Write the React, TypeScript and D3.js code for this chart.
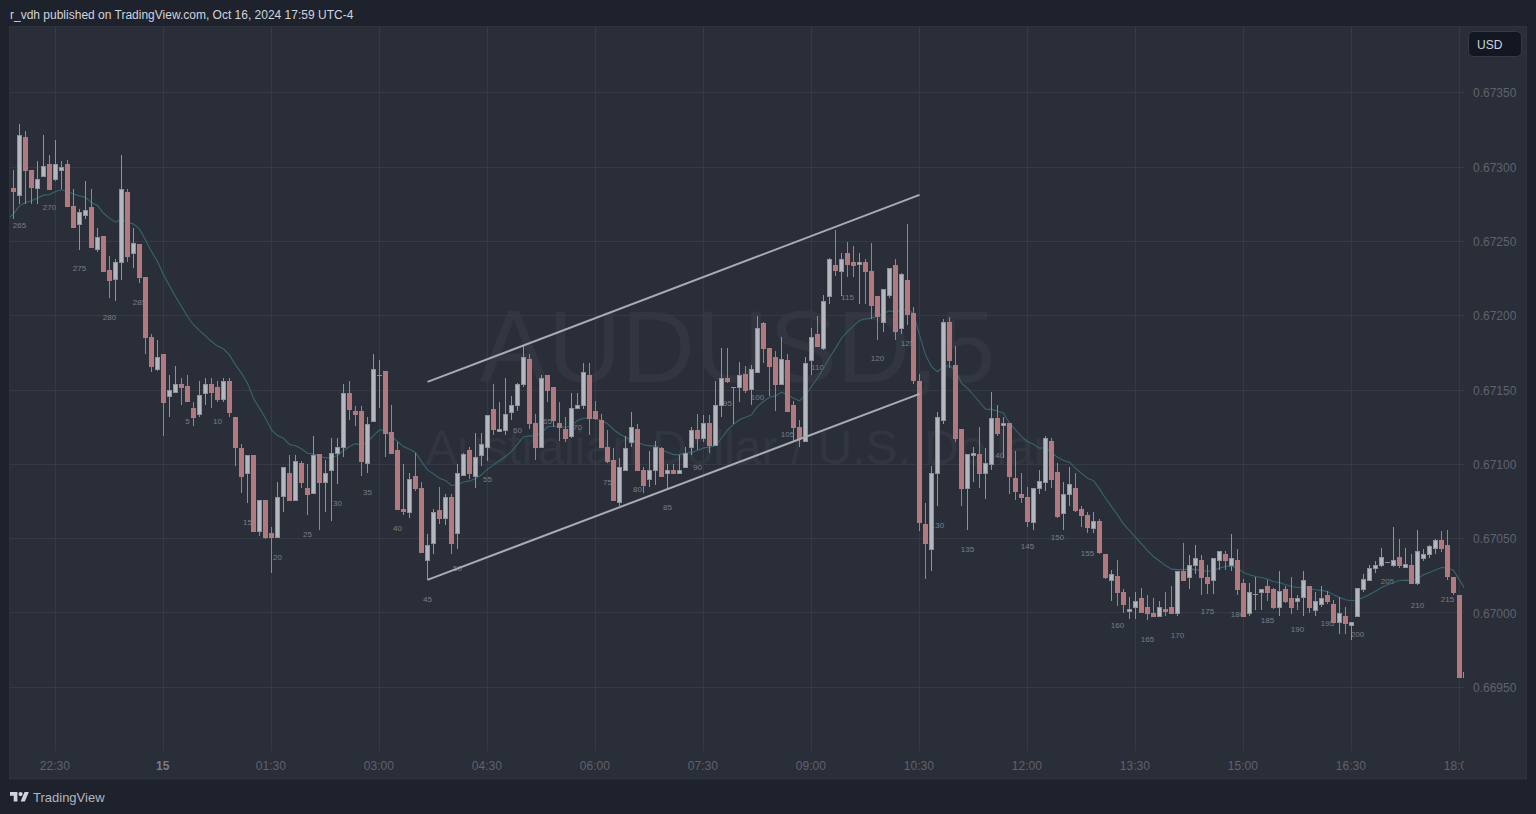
import React from "react";
import * as d3 from "d3";

// prices are in 1e-5 USD units
const falling = new Set<number>([
  0,2,3,6,9,10,13,15,16,19,21,22,23,25,28,29,30,33,34,36,37,38,40,42,43,46,48,49,51,56,57,58,
  62,63,64,65,67,68,71,73,76,80,86,87,89,90,91,92,96,97,98,99,100,104,105,108,110,114,116,119,
  122,125,126,127,129,130,131,134,137,139,140,142,143,144,147,149,150,151,152,156,157,158,161,
  164,166,167,168,169,173,174,177,178,179,181,182,184,185,188,189,190,192,193,195,198,199,202,
  204,205,209,210,212,213,216,219,220,222,231,233,238,239,240,241,
]);

const highs = [
  67298,67329,67324.5,67298,67304,67322,67308,67318,67304,67305,
  67285,67272,67291,67285,67259,67254,67240,67238,67308,67285,
  67259,67248,67226,67188,67184,67174,67160,67166,67158,67160,
  67142,67156,67158,67158,67156,67158,67158,67132,67114,67106,
  67106,67076,67076,67058,67088,67098,67106,67106,67102,67100,
  67119,67107,67103,67118,67118,67154,67156,67139,67139,67132,
  67174,67170,67163,67140,67115,67100,67094,67108,67088,67053,
  67070,67085,67080,67080,67100,67108,67112,67121,67121,67133,
  67154,67142,67158,67146,67155,67180,67174,67134,67160,67160,
  67152,67142,67132,67148,67148,67168,67168,67143,67134,67123,
  67111,67104,67119,67135,67127,67098,67109,67116,67112,67100,
  67100,67106,67112,67125,67134,67133,67133,67156,67178,67178,
  67152,67169,67166,67167,67200,67196,67178,67176,67186,67174,
  67143,67130,67172,67192,67200,67214,67239,67258,67242,67250,
  67247,67242,67238,67249,67213,67218,67232,67238,67229,67262,
  67206,67161,67074,67099,67135,67198,67199,67180,67124,67107,
  67112,67125,67111,67149,67140,67132,67128,67109,67094,67085,
  67084,67096,67119,67118,67101,67088,67098,67094,67072,67068,
  67068,67063,67040,67029,67036,67016,67011,67014,67017,67012,
  67010,67008,67014,67018,67028,67047,67039,67046,67039,67032,
  67037,67042,67042,67053,67043,67023,67020,67024,67016,67022,
  67017,67028,67018,67024,67012,67028,67018,67014,67018,67015,
  67009,67011,67004,66994,67017,67026,67032,67035,67044,67034.5,
  67058,67050,67044,67040,67056,67043,67046,67050,67055,67056,
  67024,67012,66960,
];
const bodyTops = [
  67286,67322,67320,67298,67292,67301,67302,67302,67300,67302,
  67274,67270,67271,67273,67253,67254,67231,67236,67285,67283,
  67249,67248,67226,67186,67172,67174,67150,67154,67154,67153,
  67138,67147,67154,67154,67152,67156,67156,67132,67111,67106,
  67106,67076,67076,67054,67078,67098,67094,67102,67101,67084,
  67106,67107,67094,67108,67112,67148,67148,67136,67136,67127,
  67164,67160,67163,67122,67110,67070,67090,67092,67084,67046,
  67068,67069,67078,67078,67094,67107,67110,67105,67114,67133,
  67137,67124,67134,67140,67154,67172,67171,67128,67158,67160,
  67152,67128,67124,67138,67140,67162,67160,67136,67130,67112,
  67103,67098,67111,67125,67124,67096,67096,67112,67111,67096,
  67096,67096,67108,67123,67123,67128,67128,67140,67158,67158,
  67152,67160,67161,67164,67192,67195,67178,67172,67171,67170,
  67140,67125,67168,67186,67188,67210,67238,67234,67238,67242,
  67236,67236,67236,67230,67213,67218,67232,67234,67228,67224,
  67202,67156,67060,67094,67132,67196,67196,67167,67124,67107,
  67108,67107,67101,67131,67131,67128,67128,67091,67080,67078,
  67084,67089,67118,67116,67095,67080,67087,67084,67070,67066,
  67062,67062,67040,67026,67025,67014,67003,67008,67010,67004,
  67000,67004,67003,67004,67028,67028,67032,67037,67036,67024,
  67037,67042,67040,67037,67036,67020,67014,67013,67016,67018,
  67016,67015,67016,67010,67010,67022,67018,67008,67010,67012,
  67006,67000,66998,66994,67017,67023,67030,67032,67038,67034,
  67036,67038,67033,67032,67042,67040,67045,67049,67049,67046,
  67024,67012,66960,
];
const bodyBottoms = [
  67284,67281,67298,67287,67286,67294,67285,67292,67298,67274,
  67260,67262,67268,67246,67245,67230,67224,67225,67236,67240,
  67242,67226,67186,67166,67164,67142,67146,67149,67152,67143,
  67132,67134,67148,67149,67144,67144,67135,67112,67092,67094,
  67055,67055,67051,67051,67051,67079,67076,67076,67088,67080,
  67081,67088,67088,67096,67108,67112,67137,67134,67102,67101,
  67129,67160,67121,67108,67070,67069,67068,67084,67041,67036,
  67047,67064,67064,67047,67054,67093,67094,67092,67106,67112,
  67124,67123,67123,67135,67140,67154,67128,67112,67112,67150,
  67130,67125,67118,67119,67138,67140,67131,67131,67112,67102,
  67076,67075,67096,67115,67096,67086,67090,67096,67092,67094,
  67094,67094,67098,67112,67118,67118,67113,67113,67140,67156,
  67152,67152,67150,67151,67162,67178,67166,67154,67154,67136,
  67125,67118,67116,67170,67180,67178,67213,67231,67230,67235,
  67234,67235,67230,67207,67200,67196,67214,67190,67192,67201,
  67157,67061,67047,67043,67094,67130,67170,67118,67084,67084,
  67106,67094,67094,67100,67121,67127,67092,67082,67078,67062,
  67061,67084,67088,67090,67065,67067,67080,67069,67066,67058,
  67057,67041,67024,67022,67014,67006,67002,67004,67001,67000,
  66998,66998,67002,67000,67000,67022,67024,67032,67024,67020,
  67022,67036,67036,67032,67016,66998,67000,67013,67014,67014,
  67004,67004,67008,67004,67008,67011,67004,67002,67006,67008,
  66994,66994,66993,66992,66998,67016,67022,67030,67032,67034,
  67032,67032,67031,67020,67020,67037,67040,67044,67044,67025,
  67014,66957,66957,
];
const lows = [
  67265,67275,67275,67275,67275,67294,67285,67291,67285,67273,
  67260,67244,67265,67246,67243,67230,67212,67210,67224,67236,
  67232,67222,67174,67162,67163,67119,67132,67149,67140,67142,
  67126,67132,67140,67138,67142,67142,67132,67099,67081,67074,
  67055,67052,67050,67027,67051,67068,67076,67076,67084,67066,
  67080,67056,67068,67062,67087,67105,67130,67126,67092,67094,
  67129,67138,67105,67108,67069,67066,67064,67082,67041,67022,
  67040,67060,67059,67040,67043,67092,67090,67084,67099,67102,
  67120,67122,67120,67130,67136,67152,67124,67103,67112,67142,
  67125,67116,67115,67118,67137,67137,67120,67130,67112,67101,
  67076,67072,67096,67112,67096,67081,67085,67086,67092,67084,
  67094,67094,67098,67106,67110,67115,67108,67113,67132,67155,
  67127,67142,67148,67140,67162,67168,67146,67136,67154,67135,
  67116,67112,67116,67160,67179,67177,67208,67227,67213,67226,
  67226,67208,67208,67198,67184,67189,67212,67184,67188,67194,
  67154,67055,67023,67028,67072,67127,67165,67115,67072,67056,
  67088,67084,67077,67096,67119,67104,67080,67076,67074,67058,
  67056,67080,67082,67084,67064,67056,67072,67068,67058,67054,
  67054,67040,67023,67008,67005,67000,66996,66996,67001,66995,
  66997,66997,66998,66999,66998,67022,67016,67026,67012,67013,
  67013,67029,67029,67028,67012,66998,66998,67002,67002,67008,
  67003,66998,67007,66999,67002,66998,67000,66998,67004,67006,
  66993,66986,66986,66982,66998,67014,67022,67027,67031,67033.5,
  67031,67030,67030,67020,67019,67035,67037,67040,67041,67022,
  67012,66957,66957,
];

const emaBeforeFirst = 67265;
const emaValues = [
  67268.6,67274,67276.2,67277.4,67279.2,67281.2,67281.6,67283.6,67284.8,67283.6,
  67281.9,67280.7,67279.8,67276.2,67274.2,67269,67265.7,67263,67265,67263,
  67261.7,67258.5,67251,67243.3,67236.5,67227.6,67220.2,67213,67206.3,67199.5,
  67194,67190,67186.5,67182.7,67179.6,67177.8,67173.5,67167,67161.4,67154.6,
  67144.5,67137.8,67131,67123.2,67119.4,67117.6,67113.4,67112.5,67110.5,67107.5,
  67106.9,67105.5,67104.4,67104.6,67106,67109.3,67112,67114,67113,67115,
  67119.4,67123.2,67122.8,67118.8,67115.4,67112,67110.2,67108,67101.9,67096.3,
  67093.6,67090.7,67089.1,67085.8,67086.5,67088.2,67088.9,67090.3,67093,67096.8,
  67099.7,67102.6,67105.3,67108.7,67113.6,67118.5,67119.2,67119.2,67121.4,67125.3,
  67125.7,67125.7,67124.8,67126.2,67129.5,67131.1,67131.3,67130.9,67129.3,67127.5,
  67123.5,67120.5,67118.3,67116.5,67115,67113.2,67112.5,67112.5,67109.8,67108.2,
  67106.6,67106.6,67107.5,67108,67109.3,67111.1,67111.6,67112.5,67117.6,67123.2,
  67127,67130,67131.8,67133.3,67139,67142.3,67145.2,67146.1,67148.6,67146.8,
  67144.5,67142.7,67146.7,67152.4,67158,67164.7,67171.9,67178.1,67184.9,67189.4,
  67193.2,67196.8,67197.9,67198.3,67199.9,67201.7,67203.3,67202.4,67204,67204.4,
  67201.3,67187.1,67173.7,67165.8,67162.4,67165.8,67166.5,67163.1,67154.6,67151.2,
  67146.7,67142,67137.2,67137,67136,67134.6,67127.7,67123.2,67118.7,67115.4,
  67113.6,67110.9,67111.3,67108,67104.8,67102.6,67101.5,67097.4,67094,67090.7,
  67089.1,67083.5,67077.2,67071.6,67066,67060,67055.5,67051,67046.5,67042,
  67038,67035,67031.9,67029.5,67029.2,67029.2,67029.5,67029.2,67028.6,67028,
  67028.6,67030.2,67031.3,67031.7,67030.2,67027.3,67025.7,67024.6,67023.9,67022.8,
  67021,67020.5,67019,67017.8,67017.2,67017.2,67016.5,67015.6,67015.2,67014.5,
  67012.2,67010.4,67008.9,67008.2,67008.9,67010.4,67012.5,67014.7,67017.2,67019,
  67020.5,67021.9,67022.1,67021.9,67023,67025.7,67027.3,67029,67030.6,67030.4,
  67028.6,67022.3,67015.6,
];

const barNumbers = [265,270,275,280,285,5,10,15,20,25,30,35,40,45,50,55,60,65,70,75,80,85,90,95,100,105,110,115,120,125,130,135,140,145,150,155,160,165,170,175,180,185,190,195,200,205,210,215];
const barNumberIndex = barNumbers.map((n) => (n >= 265 ? n - 264 : n + 24));
const barNumberLevels = [
  67261,67273,67232,67199,67209.4,67129,67129,67061,67038,67053,67074,67081.5,67057,67009.5,67030,67090,
  67123,67129,67125,67088,67083.5,67071,67098,67141.4,67145.4,67120.5,67165.6,67212.7,67171.7,67181.8,
  67059,67043,67106,67045,67051,67040.5,66992,66982.6,66985,67001.4,66999.4,66995.4,66989,66993.4,66986,
  67021.6,67005.5,67009.5,
];

const channelUpper = [[69, 67155.5],[151, 67281.4]];
const channelLower = [[69, 67022.3],[151, 67147.5]];

const priceTicks = [67350,67300,67250,67200,67150,67100,67050,67000,66950];
const timeTickIndex = [7,25,43,61,79,97,115,133,151,169,187,205,223,241];
const timeTickLabels = ["22:30","15","01:30","03:00","04:30","06:00","07:30","09:00","10:30","12:00","13:30","15:00","16:30","18:00"];

const FONT = "'Liberation Sans', Arial, sans-serif";
const C = {
  page: "#1e222d",
  pane: "#2a2e39",
  frame: "#2f333e",
  grid: "#363a45",
  axis: "#5f626d",
  axisBold: "#787b86",
  mark: "#323641",
  upFill: "#b5b7bf",
  upStroke: "#8f919b",
  downFill: "#b17a7e",
  downStroke: "#ad7a7e",
  ema: "#36656f",
  channel: "#a9abb5",
  label: "#7a7d86",
  head: "#d1d4dc",
};

export default function App() {
  const x = d3.scaleLinear().domain([0, 1]).range([13.5, 19.5]);
  const y = d3.scaleLinear().domain([67350, 66950]).range([92.9, 687.3]);
  const crisp = (v: number) => Math.floor(v) + 0.5;
  const ema = [emaBeforeFirst, ...emaValues];
  const emaPath = d3
    .line<number>()
    .x((_, i) => x(i - 1))
    .y((d) => y(d))(ema) as string;
  const chanLine = d3
    .line<number[]>()
    .x((d) => x(d[0]))
    .y((d) => y(d[1]));

  return (
    <svg
      width={1536}
      height={814}
      style={{ position: "fixed", left: 0, top: 0, display: "block" }}
      fontFamily={FONT}
    >
      <defs>
        <clipPath id="plot">
          <rect x={10} y={27} width={1454} height={724} />
        </clipPath>
        <clipPath id="timeAxis">
          <rect x={10} y={751} width={1454} height={28} />
        </clipPath>
      </defs>
      <rect width={1536} height={814} fill={C.page} />
      <rect x={9.5} y={26.5} width={1517} height={752.5} fill={C.pane} stroke={C.frame} />
      <text x={10} y={19} fontSize={12} fill={C.head}>
        r_vdh published on TradingView.com, Oct 16, 2024 17:59 UTC-4
      </text>

      <g textAnchor="middle" fill={C.mark}>
        <text x={737.5} y={382} fontSize={102}>AUDUSD,5</text>
        <text x={737.5} y={464} fontSize={48}>Australian Dollar / U.S. Dollar</text>
      </g>

      <g stroke={C.grid} strokeWidth={1}>
        {priceTicks.map((p) => (
          <line key={p} x1={10} x2={1464} y1={crisp(y(p))} y2={crisp(y(p))} />
        ))}
        {timeTickIndex.map((i) => (
          <line key={i} x1={x(i)} x2={x(i)} y1={27} y2={751} />
        ))}
      </g>

      <g clipPath="url(#plot)">
        <g textAnchor="middle" fontSize={8} fill={C.label}>
          {barNumbers.map((n, k) => (
            <text key={k} x={x(barNumberIndex[k])} y={y(barNumberLevels[k]) + 3}>
              {n}
            </text>
          ))}
        </g>
        <path d={emaPath} fill="none" stroke={C.ema} strokeWidth={1.1} />
        {highs.map((h, i) => {
          const down = falling.has(i);
          const cx = x(i);
          const top = Math.round(y(bodyTops[i]));
          const bot = Math.round(y(bodyBottoms[i]));
          const doji = bodyTops[i] === bodyBottoms[i];
          const wick = down ? C.downFill : C.upStroke;
          return (
            <g key={i}>
              <rect
                x={cx - 0.5}
                y={Math.round(y(h))}
                width={1}
                height={Math.max(1, Math.round(y(lows[i])) - Math.round(y(h)))}
                fill={wick}
              />
              {doji ? (
                <rect x={cx - 2.5} y={top} width={5} height={1} fill={down ? C.downFill : C.upStroke} />
              ) : (
                <rect
                  x={cx - 2}
                  y={top + 0.5}
                  width={4}
                  height={Math.max(2, bot - top)}
                  fill={down ? C.downFill : C.upFill}
                  stroke={down ? C.downStroke : C.upStroke}
                  strokeWidth={1}
                />
              )}
            </g>
          );
        })}
        <path d={chanLine(channelUpper) as string} fill="none" stroke={C.channel} strokeWidth={2} />
        <path d={chanLine(channelLower) as string} fill="none" stroke={C.channel} strokeWidth={2} />
      </g>

      <g fontSize={12} fill={C.axis}>
        {priceTicks.map((p) => (
          <text key={p} x={1473} y={y(p) + 4.5}>
            {(p / 1e5).toFixed(5)}
          </text>
        ))}
      </g>
      <g clipPath="url(#timeAxis)" fontSize={12} textAnchor="middle">
        {timeTickIndex.map((i, k) => {
          const bold = timeTickLabels[k] === "15";
          return (
            <text
              key={i}
              x={x(i) - 0.7}
              y={770}
              fill={bold ? C.axisBold : C.axis}
              fontWeight={bold ? 700 : 400}
            >
              {timeTickLabels[k]}
            </text>
          );
        })}
      </g>

      <rect x={1468.5} y={31.5} width={53} height={25} rx={5} fill="#131722" stroke="#363a45" />
      <text x={1477} y={49} fontSize={12} fill={C.head}>USD</text>

      <g transform="translate(10,789.8) scale(0.53)" fill="#d1d4dc">
        <path d="M14 22H7V11H0V4h14v18zM28 22h-8l7.5-18h8L28 22z" />
        <circle cx={20} cy={8} r={4} />
      </g>
      <text x={33} y={802} fontSize={13} fill="#b2b5be">TradingView</text>
    </svg>
  );
}
